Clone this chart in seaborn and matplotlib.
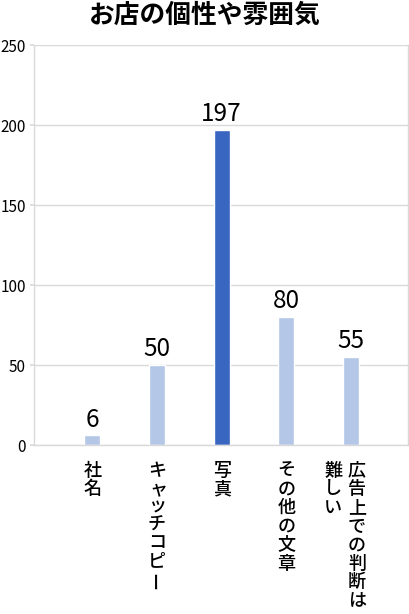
import matplotlib
matplotlib.use('Agg')
import matplotlib.pyplot as plt
import seaborn as sns

sns.set_theme(style='white')
plt.rcParams['font.family'] = ['Noto Sans CJK JP', 'DejaVu Sans']

title = 'お店の個性や雰囲気'
categories = ['社名', 'キャッチコピー', '写真', 'その他の文章', '広告上での判断は難しい']
# label columns for vertical writing, right-to-left
label_columns = [['社名'], ['キャッチコピー'], ['写真'], ['その他の文章'],
                 ['広告上での判断は', '難しい']]
values = [6, 50, 197, 80, 55]
highlight = '写真'
y_ticks = [0, 50, 100, 150, 200, 250]

dark = '#3866c0'
light = '#b4c7e7'
grey = '#d9d9d9'


def main():
    fig = plt.figure(figsize=(4.10, 6.14), dpi=100)
    ax = fig.add_axes([34 / 410, 1 - 445 / 614, 374 / 410, 400 / 614])

    colors = [dark if c == highlight else light for c in categories]
    sns.barplot(x=categories, y=values, hue=categories, palette=colors,
                legend=False, width=0.25, saturation=1, ax=ax)

    for cont in ax.containers:
        ax.bar_label(cont, fontsize=17.5, padding=2, color='#000000')

    ax.set_ylim(0, 250)
    ax.set_yticks(y_ticks)
    ax.set_xlim(-0.9, 4.88)
    ax.yaxis.grid(True, color=grey, linewidth=1)
    ax.set_axisbelow(True)
    ax.tick_params(axis='y', length=3, color=grey, labelsize=11, pad=3,
                   labelcolor='#000000', left=True)
    ax.set_xticks(range(len(categories)))
    ax.set_xticklabels([])
    ax.tick_params(axis='x', length=0)
    for side in ['left', 'bottom', 'right']:
        ax.spines[side].set_visible(True)
        ax.spines[side].set_color(grey)
        ax.spines[side].set_linewidth(1)
    ax.spines['top'].set_visible(False)
    ax.set_xlabel('')
    ax.set_ylabel('')

    # vertical (tategaki) category labels
    small = 'ャュョッァィゥェォ'
    for i, cols in enumerate(label_columns):
        n = len(cols)
        for j, col in enumerate(cols):
            dx = 8.6 * (n - 1) / 2 - 17.2 * j if n > 1 else 0
            pos = 18.5
            for ch in col:
                rot = 90 if ch == 'ー' else 0
                adv = 12.6 if ch in small else 13.4
                ax.annotate(ch, xy=(i, 0), xycoords=('data', 'axes fraction'),
                            xytext=(dx + (1 if ch in small else 0), -pos),
                            textcoords='offset points', ha='center', va='center',
                            fontsize=13, rotation=rot, color='#000000',
                            fontweight='medium', annotation_clip=False)
                pos += adv

    fig.text(0.5, 1 - 15 / 614, title, ha='center', va='center',
             fontsize=18.5, fontweight='bold', color='#000000')

    fig.savefig('out.png', dpi=100)
    plt.close(fig)


if __name__ == '__main__':
    main()
